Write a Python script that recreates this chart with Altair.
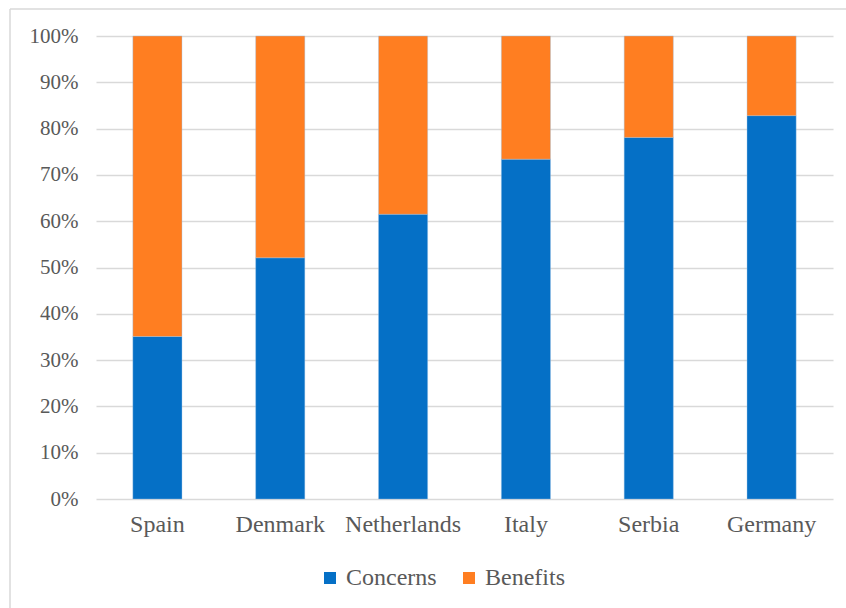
import altair as alt
import pandas as pd

countries = ["Spain", "Denmark", "Netherlands", "Italy", "Serbia", "Germany"]
concerns = [0.351, 0.521, 0.615, 0.734, 0.781, 0.828]
benefits = [round(1 - c, 3) for c in concerns]
series = ["Concerns", "Benefits"]
colors = ["#0570C6", "#FF7E21"]
y_ticks = [i / 10 for i in range(11)]

rows = []
for c, v1, v2 in zip(countries, concerns, benefits):
    rows.append({"country": c, "series": "Concerns", "value": v1, "order": 0})
    rows.append({"country": c, "series": "Benefits", "value": v2, "order": 1})
df = pd.DataFrame(rows)

FONT = "Liberation Serif"
TXT = "#595959"
GRID = "#D9D9D9"

bars = alt.Chart(df).mark_bar(stroke="#9DC3E6", strokeWidth=0.4).encode(
    x=alt.X("country:N", sort=countries, title=None,
            scale=alt.Scale(paddingInner=0.6, paddingOuter=0.3),
            axis=alt.Axis(labelAngle=0, domain=False, ticks=False,
                          labelFontSize=24, labelPadding=13, labelColor=TXT,
                          labelFont=FONT)),
    y=alt.Y("value:Q", stack="zero", title=None,
            scale=alt.Scale(domain=[0, 1], nice=False),
            axis=alt.Axis(values=y_ticks, format=".0%", domain=False, ticks=False,
                          grid=True, gridColor=GRID, gridWidth=1.6,
                          labelFontSize=21, labelPadding=18, labelColor=TXT,
                          labelFont=FONT)),
    color=alt.Color("series:N", scale=alt.Scale(domain=series, range=colors),
                    legend=alt.Legend(title=None, orient="none", direction="horizontal",
                                      legendX=222, legendY=530, padding=0,
                                      symbolType="square", symbolSize=144,
                                      symbolStrokeWidth=0, labelFontSize=24,
                                      labelFont=FONT, labelColor=TXT,
                                      labelOffset=4, columnPadding=20)),
    order=alt.Order("order:Q"),
)

frame_src = alt.Data(values=[{"k": 1}])
frame_left = alt.Chart(frame_src).mark_rule(color=GRID, strokeWidth=1.5).encode(
    x=alt.value(-86), y=alt.value(-27), y2=alt.value(580))
frame_top = alt.Chart(frame_src).mark_rule(color=GRID, strokeWidth=1.5).encode(
    x=alt.value(-86), x2=alt.value(760), y=alt.value(-27))

chart = alt.layer(bars, frame_left, frame_top).properties(
    width=737, height=463,
    autosize=alt.AutoSizeParams(type="none"),
    padding={"left": 96, "top": 36, "right": 13, "bottom": 109},
).configure(
    background="white", font=FONT
).configure_view(stroke=None, strokeWidth=0)

chart.save("out.html", embed_options={"renderer": "svg", "actions": False})
